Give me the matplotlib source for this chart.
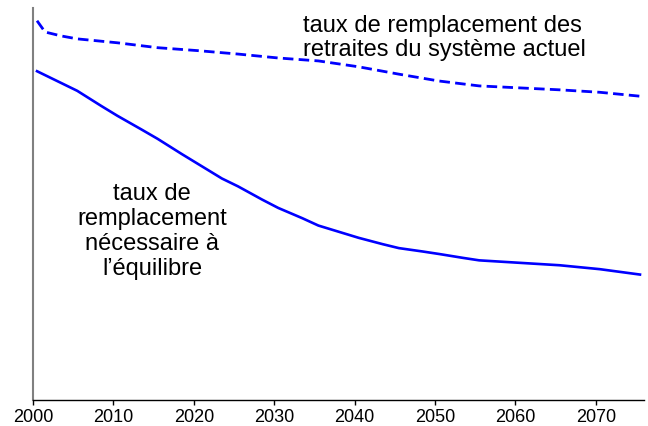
import matplotlib
matplotlib.use("Agg")
import matplotlib.pyplot as plt

plt.rcParams['font.family'] = ['Liberation Sans', 'DejaVu Sans']

# Data (replacement rates, arbitrary % scale)
years_actuel = [2000, 2001, 2003, 2005, 2010, 2015, 2020, 2025, 2030, 2035,
                2040, 2045, 2050, 2055, 2060, 2065, 2070, 2075]
taux_actuel = [77.4, 75.1, 74.3, 73.7, 72.9, 71.9, 71.3, 70.6, 69.8, 69.2,
               68.0, 66.5, 65.1, 64.1, 63.7, 63.3, 62.8, 62.0]

years_equil = [2000, 2003, 2005, 2008, 2010, 2013, 2015, 2018, 2020, 2023,
               2025, 2028, 2030, 2033, 2035, 2038, 2040, 2043, 2045, 2048,
               2050, 2053, 2055, 2058, 2060, 2065, 2070, 2075]
taux_equil = [67.1, 64.7, 63.1, 60.0, 58.0, 55.2, 53.3, 50.2, 48.2, 45.2,
              43.6, 40.9, 39.2, 37.1, 35.6, 34.1, 33.1, 31.8, 31.0, 30.3,
              29.8, 29.0, 28.5, 28.2, 28.0, 27.5, 26.7, 25.6]

tick_years = [2000, 2010, 2020, 2030, 2040, 2050, 2060, 2070]

label_actuel = "taux de remplacement des\nretraites du système actuel"
label_equil = "taux de\nremplacement\nnécessaire à\nl’équilibre"

fig = plt.figure(figsize=(6.48, 4.27), dpi=100)
ax = fig.add_axes([33/648, 1-401/427, (644-33)/648, (401-9)/427])

ax.plot(years_actuel, taux_actuel, color='#0000FF', lw=2.0,
        linestyle=(0, (3.8, 1.9)), solid_capstyle='butt', dash_capstyle='butt')
ax.plot(years_equil, taux_equil, color='#0000FF', lw=1.9)

ax.set_xlim(1999.5, 2075.5)
ax.set_ylim(0, 80)
ax.set_xticks([y - 0.5 for y in tick_years])
ax.set_xticklabels([str(y) for y in tick_years], fontsize=13)
ax.set_yticks([])
ax.tick_params(axis='x', direction='out', length=3.5, width=1, color='black', pad=2.5)

for s in ['top', 'right']:
    ax.spines[s].set_visible(False)
ax.spines['left'].set_color('#808080')
ax.spines['left'].set_linewidth(1.5)
ax.spines['bottom'].set_color('black')
ax.spines['bottom'].set_linewidth(1.0)

ax.text(0.442, 0.985, label_actuel, transform=ax.transAxes,
        ha='left', va='top', fontsize=17, linespacing=1.12)
ax.text(0.1952, 0.433, label_equil, transform=ax.transAxes,
        ha='center', va='center', fontsize=17, linespacing=1.18,
        multialignment='center')

fig.savefig("out.png", dpi=100)
